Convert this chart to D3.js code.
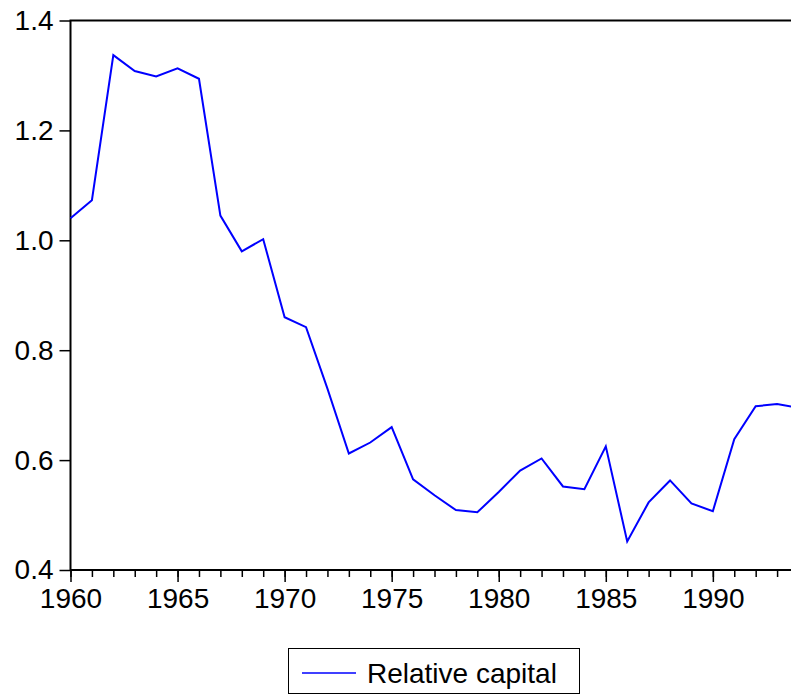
<!DOCTYPE html>
<html><head><meta charset="utf-8">
<script src="https://cdn.jsdelivr.net/npm/d3@7"></script>
<style>body{margin:0;background:#fff}svg{display:block}text{font-family:Arial,"Liberation Sans",sans-serif}</style>
</head><body>
<svg id="c" width="791" height="696"></svg>
<script>
const years = [1960,1961,1962,1963,1964,1965,1966,1967,1968,1969,1970,1971,1972,1973,1974,1975,1976,1977,1978,1979,1980,1981,1982,1983,1984,1985,1986,1987,1988,1989,1990,1991,1992,1993,1994];
const relativeCapital = [1.040,1.073,1.337,1.308,1.298,1.313,1.294,1.045,0.980,1.002,0.860,0.842,0.730,0.612,0.632,0.660,0.565,0.536,0.509,0.505,0.542,0.581,0.603,0.552,0.547,0.625,0.452,0.523,0.563,0.521,0.507,0.638,0.698,0.702,0.695];
const yTicks = [0.4,0.6,0.8,1.0,1.2,1.4];
const xMajor = [1960,1965,1970,1975,1980,1985,1990];
const seriesName = "Relative capital";

const svg = d3.select("#c");
const L = 70.5, R = 798.5, T = 20.5, B = 570;
const x = d3.scaleLinear().domain([1960,1994]).range([L,R]);
const y = d3.scaleLinear().domain([0.4,1.4]).range([B,T]);

// frame
svg.append("rect").attr("x",L).attr("y",T).attr("width",R-L).attr("height",B-T)
  .attr("fill","none").attr("stroke","#000").attr("stroke-width",2);

// y axis
const ya = svg.append("g").attr("transform",`translate(${L},0)`)
  .call(d3.axisLeft(y).tickValues(yTicks).tickFormat(d3.format(".1f")).tickSize(11).tickPadding(6));
ya.select(".domain").remove();
ya.selectAll("line").attr("stroke","#000").attr("stroke-width",1.5);
ya.selectAll("text").attr("font-size",28).attr("fill","#000").attr("font-family","Arial, 'Liberation Sans', sans-serif");

// x axis minor
const xm = svg.append("g").attr("transform",`translate(0,${B})`)
  .call(d3.axisBottom(x).tickValues(years).tickFormat("").tickSize(7));
xm.select(".domain").remove();
xm.selectAll("line").attr("stroke","#000").attr("stroke-width",1.5);
// x axis major
const xa = svg.append("g").attr("transform",`translate(0,${B})`)
  .call(d3.axisBottom(x).tickValues(xMajor).tickFormat(d3.format("d")).tickSize(12).tickPadding(6));
xa.select(".domain").remove();
xa.selectAll("line").attr("stroke","#000").attr("stroke-width",1.5);
xa.selectAll("text").attr("font-size",28).attr("fill","#000").attr("font-family","Arial, 'Liberation Sans', sans-serif");

// line
const line = d3.line().x((d,i)=>x(years[i])).y(d=>y(d));
svg.append("path").datum(relativeCapital).attr("d",line)
  .attr("fill","none").attr("stroke","#0000ff").attr("stroke-width",2).attr("stroke-linejoin","miter");

// legend
const lg = svg.append("g");
lg.append("rect").attr("x",288.5).attr("y",648.5).attr("width",291).attr("height",45)
  .attr("fill","#fff").attr("stroke","#000").attr("stroke-width",1);
lg.append("line").attr("x1",302).attr("x2",356).attr("y1",673).attr("y2",673)
  .attr("stroke","#0000ff").attr("stroke-width",1.5);
lg.append("text").attr("x",367).attr("y",683).attr("font-size",28).attr("fill","#000").text(seriesName);
</script>
</body></html>
